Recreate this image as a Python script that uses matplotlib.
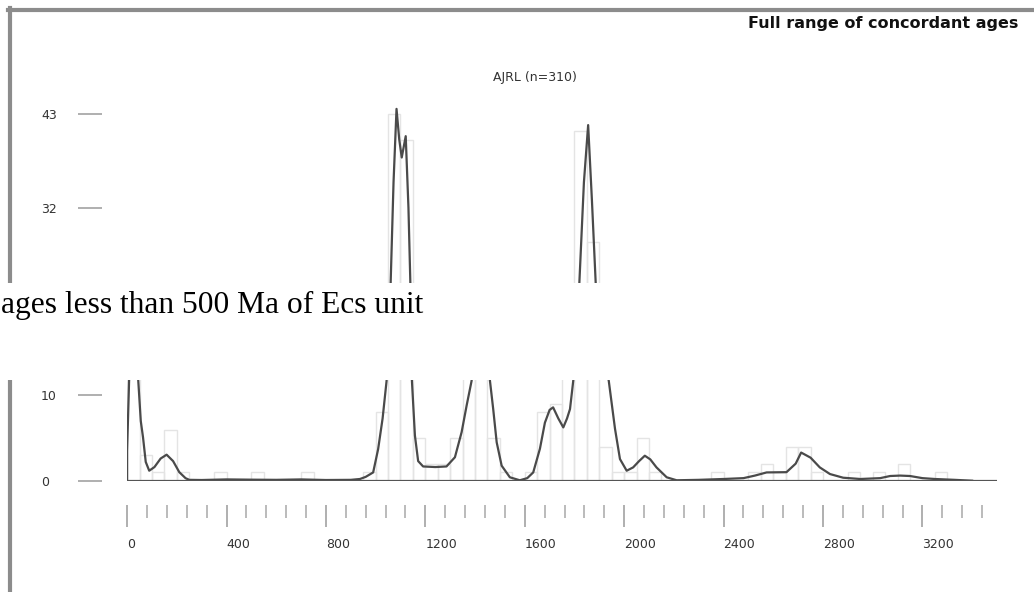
import matplotlib
matplotlib.use('Agg')
import matplotlib.pyplot as plt
from matplotlib.lines import Line2D
from matplotlib.patches import Rectangle
from matplotlib.ticker import MultipleLocator
import numpy as np

# histogram: 50 Ma bins starting at 0 Ma
bin_width = 50
bin_counts = [16, 3, 1, 6, 1, 0, 0, 1, 0, 0,
              1, 0, 0, 0, 1, 0, 0, 0, 0, 1,
              8, 43, 40, 5, 2, 2, 5, 17, 18, 5,
              1, 0, 1, 8, 9, 15, 41, 28, 4, 1,
              1, 5, 1, 0, 0, 0, 0, 1, 0, 0,
              1, 2, 1, 4, 4, 1, 0, 0, 1, 0,
              1, 0, 2, 0, 0, 1, 0, 0, 0, 0]

# probability density curve (age in Ma, scaled value)
kde_age = [0, 0, 8, 20, 32, 45, 55, 64, 75, 89, 110, 135, 159, 185, 210, 235, 250,
           300, 400, 500, 600, 700, 800, 900, 937, 960, 990, 1010, 1028, 1044, 1060,
           1072, 1084, 1095, 1105, 1121, 1132, 1140, 1146, 1158, 1171, 1191, 1240,
           1285, 1319, 1346, 1366, 1386, 1405, 1423, 1442, 1460, 1473, 1487, 1507,
           1540, 1580, 1610, 1634, 1661, 1681, 1700, 1714, 1735, 1755, 1770, 1782,
           1795, 1810, 1819, 1838, 1855, 1870, 1886, 1910, 1938, 1963, 1983, 2010,
           2036, 2060, 2083, 2105, 2130, 2171, 2211, 2300, 2400, 2480, 2526, 2573,
           2653, 2690, 2712, 2750, 2787, 2828, 2881, 2950, 3030, 3070, 3110, 3150,
           3200, 3250, 3330, 3400]
kde_val = [0, 3.5, 11.7, 17.0, 17.5, 11.7, 7.0, 5.1, 2.2, 1.17, 1.6, 2.6, 3.05, 2.3, 1.0, 0.3, 0.1,
           0.08, 0.15, 0.12, 0.1, 0.15, 0.08, 0.1, 0.2, 0.45, 0.97, 3.7, 7.3, 11.7, 22.8,
           35.0, 43.6, 40.0, 37.9, 40.4, 32.0, 22.8, 11.7, 5.3, 2.3, 1.67, 1.6,
           1.67, 2.75, 5.7, 8.8, 11.7, 17.0, 19.0, 17.0, 11.7, 8.4, 4.5, 1.76,
           0.4, 0.05, 0.3, 0.97, 3.75, 6.8, 8.3, 8.6, 7.3, 6.25, 7.3, 8.4,
           11.7, 18.0, 22.8, 35.0, 41.7, 33.0, 22.8, 16.0, 11.7, 6.1, 2.54, 1.17,
           1.56, 2.3, 2.93, 2.5, 1.56, 0.4, 0.05, 0.1, 0.2, 0.3, 0.6, 0.97,
           1.0, 2.0, 3.3, 2.7, 1.56, 0.78, 0.35, 0.2, 0.3, 0.55, 0.6, 0.55,
           0.3, 0.2, 0.1, 0.0]

y_ticks = [0, 10, 32, 43]   # the middle tick sits under the caption band
x_major = [0, 400, 800, 1200, 1600, 2000, 2400, 2800, 3200]
sample_title = 'AJRL (n=310)'
header = 'Full range of concordant ages'
caption = 'ages less than 500 Ma of Ecs unit'

fig = plt.figure(figsize=(10.34, 5.92), dpi=100)
ax = fig.add_axes([127.1 / 1034, (592 - 480.7) / 592, 869.9 / 1034, 45 * 8.528 / 592])

bin_left = np.arange(len(bin_counts)) * bin_width
ax.bar(bin_left, bin_counts, width=bin_width, align='edge', fill=False,
       edgecolor='#e4e4e4', linewidth=1.0, zorder=1)
ax.plot(kde_age, kde_val, color='#4a4a4a', linewidth=1.6, zorder=3, solid_joinstyle='round')
ax.axhline(0, color='#555555', linewidth=1.6, zorder=4)

ax.set_xlim(0, 3500)
ax.set_ylim(0, 45)

for side in ['top', 'right']:
    ax.spines[side].set_visible(False)
ax.spines['left'].set_position(('outward', 18))
ax.spines['bottom'].set_position(('outward', 17.3))
ax.spines['left'].set_visible(False)
ax.spines['bottom'].set_visible(False)

ax.set_xticks(x_major)
ax.xaxis.set_minor_locator(MultipleLocator(80))
ax.set_yticks(y_ticks)
ax.tick_params(axis='x', which='major', length=15.8, width=1.1, color='#9a9a9a',
               pad=8, labelsize=9, labelcolor='#333333')
ax.tick_params(axis='x', which='minor', length=9.4, width=1.1, color='#a8a8a8')
ax.tick_params(axis='y', length=17.3, width=1.1, color='#9a9a9a', pad=26.6,
               labelsize=9, labelcolor='#333333')
for lab in ax.get_xticklabels():
    lab.set_ha('left')
for lab in ax.get_yticklabels():
    lab.set_ha('left')

fig.text(535 / 1034, 1 - 78 / 592, sample_title, ha='center', va='center',
         fontsize=9, color='#333333')
fig.text(1018 / 1034, 1 - 28 / 592, header, ha='right', va='baseline',
         fontsize=11.5, fontweight='bold', color='#111111')

# frame of the screenshot
fig.add_artist(Line2D([9.5 / 1034, 9.5 / 1034], [0, 1 - 8 / 592], color='#8c8c8c', linewidth=3))
fig.add_artist(Line2D([8 / 1034, 1], [1 - 9.5 / 592, 1 - 9.5 / 592], color='#8c8c8c', linewidth=3))

# white caption band across the chart
fig.add_artist(Rectangle((0, (592 - 380) / 592), 1, 97 / 592, transform=fig.transFigure,
                         facecolor='white', edgecolor='none', zorder=10))
fig.text(1 / 1034, 1 - 313 / 592, caption, ha='left', va='baseline', fontsize=22.7,
         family='Liberation Serif', color='black', zorder=11)

fig.savefig('out.png', dpi=100, facecolor='white')
